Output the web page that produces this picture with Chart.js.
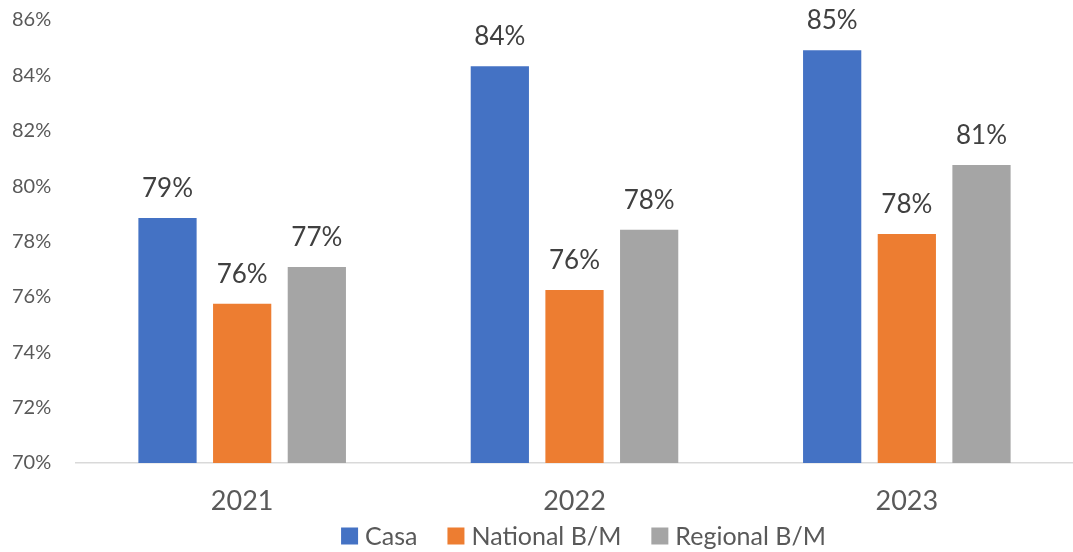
<!DOCTYPE html>
<html>
<head>
<meta charset="utf-8">
<script src="https://cdn.jsdelivr.net/npm/chart.js@4/dist/chart.umd.min.js"></script>
<style>
    html, body { margin: 0; padding: 0; background: #fff; }
    #wrap { width: 1073px; height: 552px; }
</style>
</head>
<body>
<div id="wrap"><canvas id="chart" width="1073" height="552"></canvas></div>
<script>
// --- Data ---
const years = ['2021', '2022', '2023'];
const casa = [78.85, 84.33, 84.91];
const nationalBM = [75.75, 76.25, 78.27];
const regionalBM = [77.08, 78.42, 80.76];
const yTicks = [70, 72, 74, 76, 78, 80, 82, 84, 86];

const fontFamily = "Lato, 'Open Sans', sans-serif";

// value labels above each bar
const barLabels = {
    id: 'barLabels',
    afterDatasetsDraw(chart) {
        const ctx = chart.ctx;
        ctx.save();
        ctx.font = '26px ' + fontFamily;
        ctx.fillStyle = '#404040';
        ctx.textAlign = 'center';
        ctx.textBaseline = 'alphabetic';
        chart.data.datasets.forEach((ds, i) => {
            chart.getDatasetMeta(i).data.forEach((bar, j) => {
                ctx.fillText(Math.round(ds.data[j]) + '%', bar.x, bar.y - 21);
            });
        });
        ctx.restore();
    }
};

// Excel style legend: tight box/text gap, centred under the plot area
const excelLegend = {
    id: 'excelLegend',
    afterDraw(chart) {
        const ctx = chart.ctx;
        const box = 17, gapText = 7, gapItem = 30;
        const y = 536;
        ctx.save();
        ctx.font = '25px ' + fontFamily;
        ctx.textBaseline = 'middle';
        ctx.textAlign = 'left';
        const items = chart.data.datasets.map(ds => ({
            label: ds.label,
            color: ds.backgroundColor,
            w: ctx.measureText(ds.label).width
        }));
        const total = items.reduce((s, it) => s + box + gapText + it.w, 0) + gapItem * (items.length - 1);
        const area = chart.chartArea;
        let x = (area.left + area.right) / 2 + 9 - total / 2;
        items.forEach(it => {
            ctx.fillStyle = it.color;
            ctx.fillRect(x, y - box / 2, box, box);
            x += box + gapText;
            ctx.fillStyle = '#595959';
            ctx.fillText(it.label, x, y + 1);
            x += it.w + gapItem;
        });
        ctx.restore();
    }
};

new Chart(document.getElementById('chart'), {
    type: 'bar',
    data: {
        labels: years,
        datasets: [
            { label: 'Casa', data: casa, backgroundColor: '#4472C4' },
            { label: 'National B/M', data: nationalBM, backgroundColor: '#ED7D31' },
            { label: 'Regional B/M', data: regionalBM, backgroundColor: '#A5A5A5' }
        ]
    },
    options: {
        responsive: false,
        animation: false,
        layout: { padding: { top: 20, right: 0, left: 12, bottom: 31 } },
        datasets: {
            bar: { categoryPercentage: 0.674, barPercentage: 0.78 }
        },
        scales: {
            x: {
                grid: { display: false },
                border: { color: '#D9D9D9', width: 1.5 },
                ticks: { color: '#595959', font: { size: 27, family: fontFamily }, padding: 14 },
                afterFit(axis) { axis.height = 58; }
            },
            y: {
                min: 70,
                max: 86,
                afterBuildTicks(axis) { axis.ticks = yTicks.map(v => ({ value: v })); },
                grid: { display: false },
                border: { display: false },
                ticks: {
                    color: '#595959',
                    font: { size: 20, family: fontFamily },
                    padding: 8,
                    crossAlign: 'far',
                    callback: v => v + '%'
                },
                afterFit(axis) { axis.width = 64; }
            }
        },
        plugins: {
            legend: { display: false },
            tooltip: { enabled: false }
        }
    },
    plugins: [barLabels, excelLegend]
});
</script>
</body>
</html>
